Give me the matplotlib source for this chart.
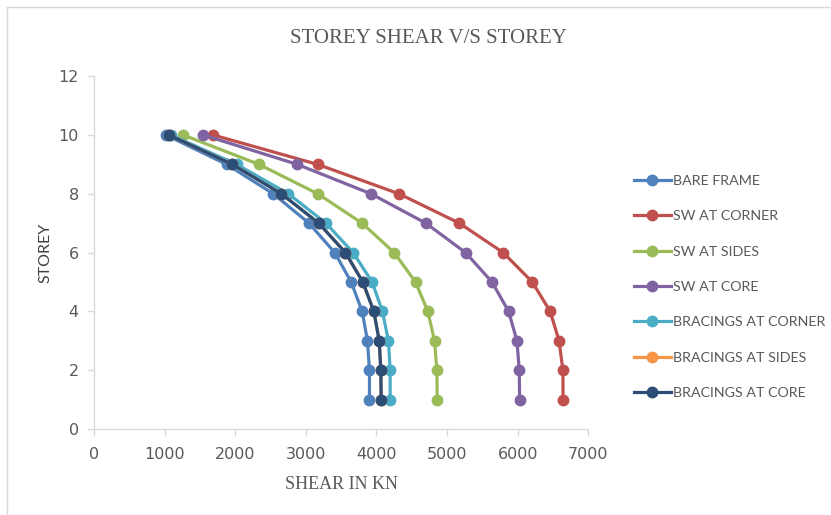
import matplotlib
matplotlib.use("Agg")
import matplotlib.pyplot as plt
from matplotlib.lines import Line2D

storey = [10, 9, 8, 7, 6, 5, 4, 3, 2, 1]

bare_frame = [1020, 1880, 2541, 3045, 3410, 3642, 3798, 3873, 3901, 3901]
sw_corner = [1690, 3168, 4320, 5175, 5795, 6206, 6460, 6585, 6640, 6642]
sw_sides = [1266, 2338, 3170, 3798, 4251, 4553, 4728, 4822, 4856, 4860]
sw_core = [1549, 2881, 3923, 4700, 5262, 5636, 5871, 5989, 6022, 6027]
br_corner = [1090, 2022, 2754, 3285, 3670, 3939, 4085, 4170, 4194, 4194]
br_sides = [1063, 1960, 2655, 3183, 3561, 3807, 3963, 4039, 4062, 4067]
br_core = [1063, 1960, 2655, 3183, 3561, 3807, 3963, 4039, 4062, 4067]

labels = ["BARE FRAME", "SW AT CORNER", "SW AT SIDES", "SW AT CORE",
          "BRACINGS AT CORNER", "BRACINGS AT SIDES", "BRACINGS AT CORE"]
series = [bare_frame, sw_corner, sw_sides, sw_core, br_corner, br_sides, br_core]
colors = ["#4F81BD", "#C0504D", "#9BBB59", "#8064A2", "#4BACC6", "#F79646", "#2C4D75"]

x_ticks = [0, 1000, 2000, 3000, 4000, 5000, 6000, 7000]
y_ticks = [0, 2, 4, 6, 8, 10, 12]

fig = plt.figure(figsize=(8.31, 5.15), dpi=100)
ax = fig.add_axes([0.113, 0.167, 0.595, 0.685])

for vals, lab, c in zip(series, labels, colors):
    ax.plot(vals, storey, color=c, lw=2.3, marker="o", ms=7.5, label=lab,
            solid_joinstyle="round")

ax.set_xlim(0, 7000)
ax.set_ylim(0, 12)
ax.set_xticks(x_ticks)
ax.set_yticks(y_ticks)
for s in ["top", "right"]:
    ax.spines[s].set_visible(False)
for s in ["left", "bottom"]:
    ax.spines[s].set_color("#D9D9D9")
    ax.spines[s].set_linewidth(1.0)
ax.tick_params(axis="both", colors="#D9D9D9", length=5, width=1,
               labelcolor="#595959", labelsize=11.5,
               labelfontfamily="Liberation Sans Narrow")
ax.tick_params(axis="x", pad=8)
ax.tick_params(axis="y", pad=6)

fig.text(0.515, 0.925, "STOREY SHEAR V/S STOREY", ha="center", va="center",
         family="Liberation Serif", fontsize=15, color="#595959")
ax.set_xlabel("SHEAR IN KN", family="Liberation Serif", fontsize=13,
              color="#595959", labelpad=10)
ax.set_ylabel("STOREY", family="Lato", fontsize=11.5, color="#404040",
              labelpad=4)

leg = fig.legend(loc="upper left", bbox_to_anchor=(0.747, 0.686), frameon=False,
                 labelspacing=1.64, handlelength=2.6, handletextpad=0.15,
                 prop={"family": "Lato", "size": 10.3})
for t in leg.get_texts():
    t.set_color("#595959")

# chart-area border (only left and top edges visible in the crop)
fig.add_artist(Line2D([7 / 831, 7 / 831], [0, 1 - 7 / 515], color="#D9D9D9",
                      lw=1, transform=fig.transFigure))
fig.add_artist(Line2D([7 / 831, 1], [1 - 7 / 515, 1 - 7 / 515], color="#D9D9D9",
                      lw=1, transform=fig.transFigure))

fig.savefig("out.png", dpi=100, facecolor="white")
